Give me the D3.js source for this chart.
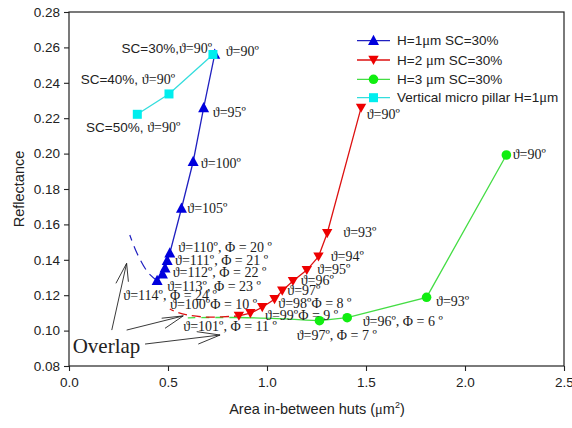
<!DOCTYPE html>
<html><head><meta charset="utf-8">
<script src="https://cdn.jsdelivr.net/npm/d3@7"></script>
<style>body{margin:0;background:#fff}svg{display:block}</style>
</head><body><svg id="c" width="572" height="428"></svg>
<script>
// ---- data ----
const blueX = [0.736, 0.680, 0.627, 0.568, 0.509, 0.496, 0.485, 0.472, 0.445];
const blueY = [0.256, 0.2258, 0.1954, 0.169, 0.1437, 0.1395, 0.1352, 0.1318, 0.1282];
const blueOverlapX = [0.445, 0.398, 0.343, 0.307];
const blueOverlapY = [0.1282, 0.133, 0.1438, 0.154];
const redX = [1.475, 1.304, 1.260, 1.201, 1.131, 1.077, 1.038, 0.976, 0.916, 0.858];
const redY = [0.2258, 0.155, 0.1418, 0.1342, 0.128, 0.1225, 0.1177, 0.1132, 0.1098, 0.1083];
const redOverlapX = [0.858, 0.70, 0.60, 0.55, 0.509];
const redOverlapY = [0.1083, 0.1076, 0.1088, 0.1102, 0.1122];
const greenX = [2.209, 1.806, 1.405, 1.265];
const greenY = [0.1992, 0.1188, 0.1073, 0.1056];
const greenTailX = [1.265, 1.05, 0.85];
const greenTailY = [0.1056, 0.1068, 0.1074];
const greenOverlapX = [0.85, 0.70, 0.60];
const greenOverlapY = [0.1074, 0.1074, 0.1072];
const cyanX = [0.727, 0.505, 0.345];
const cyanY = [0.256, 0.2337, 0.2222];
const xTicks = [0.0, 0.5, 1.0, 1.5, 2.0, 2.5];
const yTicks = [0.08, 0.10, 0.12, 0.14, 0.16, 0.18, 0.20, 0.22, 0.24, 0.26, 0.28];
const legendNames = ["H=1\u03bcm SC=30%", "H=2 \u03bcm SC=30%", "H=3 \u03bcm SC=30%", "Vertical micro pillar H=1\u03bcm"];
// annotation texts: [x, y, sansPart, serifPart]
const labels = [
  [0.2652, 0.2570, "SC=30%,", "\u03d1=90\u00ba"],
  [0.7914, 0.2551, "", "\u03d1=90\u00ba"],
  [0.0591, 0.2392, "SC=40%, ", "\u03d1=90\u00ba"],
  [0.0859, 0.2124, "SC=50%, ", "\u03d1=90\u00ba"],
  [0.7258, 0.2208, "", "\u03d1=95\u00ba"],
  [0.6652, 0.1917, "", "\u03d1=100\u00ba"],
  [0.5975, 0.1666, "", "\u03d1=105\u00ba"],
  [0.552, 0.1442, "", "\u03d1=110\u00ba, \u03a6 = 20 \u00ba"],
  [0.5354, 0.1371, "", "\u03d1=111\u00ba, \u03a6 = 21 \u00ba"],
  [0.5237, 0.1305, "", "\u03d1=112\u00ba, \u03a6 = 22 \u00ba"],
  [0.4965, 0.1224, "", "\u03d1=113\u00ba, \u03a6 = 23 \u00ba"],
  [0.2742, 0.1173, "", "\u03d1=114\u00ba, \u03a6 = 24 \u00ba"],
  [0.5101, 0.1122, "", "\u03d1=100\u00ba\u03a6 = 10 \u00ba"],
  [0.5773, 0.0998, "", "\u03d1=101\u00ba, \u03a6 = 11 \u00ba"],
  [1.5035, 0.2194, "", "\u03d1=90\u00ba"],
  [1.3854, 0.1527, "", "\u03d1=93\u00ba"],
  [1.3217, 0.1395, "", "\u03d1=94\u00ba"],
  [1.2540, 0.1320, "", "\u03d1=95\u00ba"],
  [1.1702, 0.1258, "", "\u03d1=96\u00ba"],
  [1.1025, 0.1201, "", "\u03d1=97\u00ba"],
  [1.0571, 0.1126, "", "\u03d1=98\u00ba\u03a6 = 8 \u00ba"],
  [0.9899, 0.1060, "", "\u03d1=99\u00ba\u03a6 = 9 \u00ba"],
  [1.150, 0.0947, "", "\u03d1=97\u00ba, \u03a6 = 7 \u00ba"],
  [1.4833, 0.1026, "", "\u03d1=96\u00ba, \u03a6 = 6 \u00ba"],
  [1.8535, 0.1141, "", "\u03d1=93\u00ba"],
  [2.2409, 0.1968, "", "\u03d1=90\u00ba"]
];
const overlapLabel = [0.0187, 0.0873, "Overlap"];
// arrows: tail, tip, barb1, barb2 (data units)
const arrows = [
  [[0.216, 0.1003], [0.291, 0.138], [0.237, 0.1267], [0.300, 0.1276]],
  [[0.291, 0.1003], [0.577, 0.1083], [0.468, 0.1070], [0.485, 0.1013]],
  [[0.384, 0.0924], [0.763, 0.0975], [0.645, 0.0994], [0.653, 0.0924]]
];

// ---- chart ----
const svg = d3.select("#c");
const L = 69, R = 564, T = 12, B = 366;
const x = d3.scaleLinear().domain([0, 2.5]).range([L, R]);
const y = d3.scaleLinear().domain([0.08, 0.28]).range([B, T]);
const sans = "Arial, 'Liberation Sans', sans-serif";
const serif = "'Times New Roman', 'Liberation Serif', 'DejaVu Serif', serif";

// frame
svg.append("rect").attr("x", L).attr("y", T).attr("width", R - L).attr("height", B - T)
  .attr("fill", "none").attr("stroke", "#222").attr("stroke-width", 1.2);

const xa = svg.append("g").attr("transform", `translate(0,${B})`)
  .call(d3.axisBottom(x).tickValues(xTicks).tickFormat(d3.format(".1f")).tickSizeOuter(0).tickSize(5).tickPadding(6));
const ya = svg.append("g").attr("transform", `translate(${L},0)`)
  .call(d3.axisLeft(y).tickValues(yTicks).tickFormat(d3.format(".2f")).tickSizeOuter(0).tickSize(5).tickPadding(4));
[xa, ya].forEach(a => {
  a.select(".domain").remove();
  a.selectAll("line").attr("stroke", "#222").attr("stroke-width", 1.1);
  a.selectAll("text").attr("font-family", sans).attr("font-size", 13.5).attr("fill", "#222");
});

svg.append("text").attr("x", 20).attr("y", 189).attr("transform", "rotate(-90,20,189)")
  .attr("text-anchor", "middle").attr("dominant-baseline", "middle")
  .attr("font-family", sans).attr("font-size", 14.5).attr("fill", "#222").text("Reflectance");
const xt = svg.append("text").attr("x", 317).attr("y", 414).attr("text-anchor", "middle")
  .attr("font-family", sans).attr("font-size", 14.5).attr("fill", "#222");
xt.append("tspan").text("Area in-between huts (");
xt.append("tspan").attr("font-family", serif).text("\u03bc");
xt.append("tspan").text("m");
xt.append("tspan").attr("font-size", 9).attr("dy", -6).text("2");
xt.append("tspan").attr("dy", 6).text(")");

const line = d3.line().x(d => x(d[0])).y(d => y(d[1]));
const curve = d3.line().x(d => x(d[0])).y(d => y(d[1])).curve(d3.curveMonotoneX);
const zip = (a, b) => a.map((v, i) => [v, b[i]]);

const C = {
  blue: "#0000dd", blueL: "#2020c0",
  red: "#ee0000", redL: "#dd1111",
  green: "#11ee11", greenL: "#44dd44",
  cyan: "#00eeee", cyanL: "#33dddd"
};

// overlap dashed lines
svg.append("path").datum(zip(greenOverlapX, greenOverlapY)).attr("d", curve)
  .attr("fill", "none").attr("stroke", C.greenL).attr("stroke-width", 1.3).attr("stroke-dasharray", "8,6");
svg.append("path").datum(zip(redOverlapX, redOverlapY)).attr("d", d3.line().x(d => x(d[0])).y(d => y(d[1])).curve(d3.curveCatmullRom))
  .attr("fill", "none").attr("stroke", C.redL).attr("stroke-width", 1.3).attr("stroke-dasharray", "9,5").attr("stroke-dashoffset", 4);
svg.append("path").datum(zip(blueOverlapX, blueOverlapY)).attr("d", d3.line().x(d => x(d[0])).y(d => y(d[1])).curve(d3.curveCatmullRom))
  .attr("fill", "none").attr("stroke", C.blueL).attr("stroke-width", 1.2).attr("stroke-dasharray", "10,6");

// solid lines
svg.append("path").datum(zip(greenTailX, greenTailY)).attr("d", curve)
  .attr("fill", "none").attr("stroke", C.greenL).attr("stroke-width", 1.3);
svg.append("path").datum(zip(greenX, greenY)).attr("d", line).attr("fill", "none").attr("stroke", C.greenL).attr("stroke-width", 1.3);
svg.append("path").datum(zip(redX, redY)).attr("d", line).attr("fill", "none").attr("stroke", C.redL).attr("stroke-width", 1.3);
svg.append("path").datum(zip(blueX, blueY)).attr("d", line).attr("fill", "none").attr("stroke", C.blueL).attr("stroke-width", 1.3);
svg.append("path").datum(zip(cyanX, cyanY)).attr("d", line).attr("fill", "none").attr("stroke", C.cyanL).attr("stroke-width", 1.3);

// markers
function triDownPath(s) { return `M${-s},${-s * 0.8}L${s},${-s * 0.8}L0,${s * 0.95}Z`; }
svg.append("g").selectAll("path").data(zip(redX, redY)).join("path")
  .attr("d", triDownPath(5.2)).attr("transform", d => `translate(${x(d[0])},${y(d[1])})`).attr("fill", C.red);
svg.append("g").selectAll("path").data(zip(blueX, blueY)).join("path")
  .attr("d", `M0,-6L5.5,4.2L-5.5,4.2Z`).attr("transform", d => `translate(${x(d[0])},${y(d[1])})`).attr("fill", C.blue);
svg.append("g").selectAll("circle").data(zip(greenX, greenY)).join("circle")
  .attr("cx", d => x(d[0])).attr("cy", d => y(d[1])).attr("r", 4.8).attr("fill", C.green);
svg.append("g").selectAll("rect").data(zip(cyanX, cyanY)).join("rect")
  .attr("x", d => x(d[0]) - 4.5).attr("y", d => y(d[1]) - 4.5).attr("width", 9).attr("height", 9).attr("fill", C.cyan);

// annotations
const ann = svg.append("g").attr("fill", "#222");
labels.forEach(l => {
  const t = ann.append("text").attr("x", x(l[0])).attr("y", y(l[1]));
  if (l[2]) t.append("tspan").attr("font-family", sans).attr("font-size", 13.5).text(l[2]);
  t.append("tspan").attr("font-family", serif).attr("font-size", 14).text(l[3]);
});
ann.append("text").attr("x", x(overlapLabel[0])).attr("y", y(overlapLabel[1]))
  .attr("font-family", serif).attr("font-size", 21).text(overlapLabel[2]);
arrows.forEach(a => {
  svg.append("path").attr("d", line([a[0], a[1]])).attr("stroke", "#222").attr("fill", "none").attr("stroke-width", 0.9);
  svg.append("path").attr("d", line([a[2], a[1], a[3]])).attr("stroke", "#222").attr("fill", "none").attr("stroke-width", 0.9);
});

// legend
const lg = svg.append("g");
const lcol = [[C.blueL, C.blue, "up"], [C.redL, C.red, "down"], [C.greenL, C.green, "circle"], [C.cyanL, C.cyan, "square"]];
const legY = [40.7, 60, 79.3, 97.7];
legendNames.forEach((n, i) => {
  const yy = legY[i], x0 = 357, x1 = 390, xm = 373.5;
  lg.append("line").attr("x1", x0).attr("x2", x1).attr("y1", yy).attr("y2", yy).attr("stroke", lcol[i][0]).attr("stroke-width", 1.3);
  const k = lcol[i][2];
  if (k === "up") lg.append("path").attr("d", `M0,-6L5.5,4.2L-5.5,4.2Z`).attr("transform", `translate(${xm},${yy})`).attr("fill", lcol[i][1]);
  if (k === "down") lg.append("path").attr("d", triDownPath(5.2)).attr("transform", `translate(${xm},${yy})`).attr("fill", lcol[i][1]);
  if (k === "circle") lg.append("circle").attr("cx", xm).attr("cy", yy).attr("r", 4.8).attr("fill", lcol[i][1]);
  if (k === "square") lg.append("rect").attr("x", xm - 4.5).attr("y", yy - 4.5).attr("width", 9).attr("height", 9).attr("fill", lcol[i][1]);
  const t = lg.append("text").attr("x", 397).attr("y", yy + 4.5).attr("font-family", sans).attr("font-size", 13.5).attr("fill", "#222");
  const parts = n.split("\u03bc");
  t.append("tspan").text(parts[0]);
  t.append("tspan").attr("font-family", serif).attr("font-size", 14.5).text("\u03bc");
  t.append("tspan").text(parts[1]);
});
</script></body></html>
